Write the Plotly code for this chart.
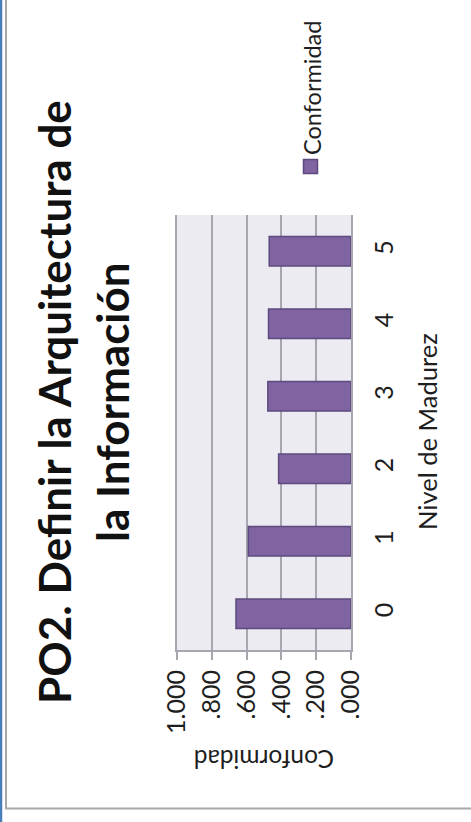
import plotly.graph_objects as go

# ---- data ----
niveles = ["0", "1", "2", "3", "4", "5"]
conformidad = [0.661, 0.590, 0.416, 0.478, 0.474, 0.470]
tick_vals = [0, 0.2, 0.4, 0.6, 0.8, 1.0]
tick_text = [".000", ".200", ".400", ".600", ".800", "1.000"]
title_line1 = "PO2. Definir la Arquitectura de"
title_line2 = "la Información"
series_name = "Conformidad"
axis_cat_title = "Nivel de Madurez"
axis_val_title = "Conformidad"

W, H = 471, 822
L, R, T, B = 177, 351, 215, 650  # plot area in pixels


def px(x):
    return (x - L) / (R - L)


def py(y):
    return (B - y) / (B - T)


FONT = "Lato"
TXT = "#1e1e1e"
GRID = "#a6a6ae"
BAR = "#8064a2"
BAR_LINE = "#5d4a7e"

fig = go.Figure()
fig.add_trace(go.Bar(
    y=niveles, x=conformidad, orientation="h", name=series_name,
    width=0.41, marker=dict(color=BAR, line=dict(color=BAR_LINE, width=1.5)),
    showlegend=False,
))

fig.update_layout(
    width=W, height=H,
    margin=dict(l=L, r=W - R, t=T, b=H - B, pad=0),
    paper_bgcolor="white", plot_bgcolor="#ebebf1",
    font=dict(family=FONT, color=TXT, size=25),
    bargap=0.59,
    xaxis=dict(
        range=[1, 0], tickvals=tick_vals, ticktext=tick_text, tickangle=-90,
        showgrid=True, gridcolor=GRID, gridwidth=2, zeroline=False,
        showline=True, linecolor=GRID, linewidth=2,
        ticks="outside", ticklen=8, tickwidth=2, tickcolor=GRID,
        tickfont=dict(family=FONT, size=25, color=TXT),
        fixedrange=True,
    ),
    yaxis=dict(
        type="category", categoryorder="array", categoryarray=niveles,
        side="right", tickangle=-90, showgrid=False, zeroline=False,
        showline=True, mirror=True, linecolor=GRID, linewidth=2,
        ticks="", ticklabelstandoff=10,
        tickfont=dict(family=FONT, size=25, color=TXT),
        fixedrange=True,
    ),
)

ann = []
# title (rotated)
ann.append(dict(text="<b>" + title_line1 + "</b>", x=px(54), y=py(402),
                xref="paper", yref="paper", showarrow=False, textangle=-90,
                xanchor="center", yanchor="middle",
                font=dict(family=FONT, size=44, color="#111111")))
ann.append(dict(text="<b>" + title_line2 + "</b>", x=px(112), y=py(402),
                xref="paper", yref="paper", showarrow=False, textangle=-90,
                xanchor="center", yanchor="middle",
                font=dict(family=FONT, size=44, color="#111111")))
# category axis title
ann.append(dict(text=axis_cat_title, x=px(427), y=py(432),
                xref="paper", yref="paper", showarrow=False, textangle=-90,
                xanchor="center", yanchor="middle",
                font=dict(family=FONT, size=25.5, color=TXT)))
# value axis title (upside down)
ann.append(dict(text=axis_val_title, x=px(264), y=py(760),
                xref="paper", yref="paper", showarrow=False, textangle=180,
                xanchor="center", yanchor="middle",
                font=dict(family=FONT, size=24.5, color=TXT)))
# legend text
ann.append(dict(text=series_name, x=px(312), y=py(88),
                xref="paper", yref="paper", showarrow=False, textangle=-90,
                xanchor="center", yanchor="middle",
                font=dict(family=FONT, size=23.5, color=TXT)))
fig.update_layout(annotations=ann)

shapes = []
# legend marker
shapes.append(dict(type="rect", xref="paper", yref="paper",
                   x0=px(303.5), x1=px(317.5), y0=py(159.5), y1=py(173.5),
                   fillcolor=BAR, line=dict(color=BAR_LINE, width=1.5)))
# frame: blue outer edge on left
shapes.append(dict(type="line", xref="paper", yref="paper",
                   x0=px(1), x1=px(1), y0=py(0), y1=py(H),
                   line=dict(color="#4a7ebb", width=2.5)))
# gray chart border (left and bottom)
shapes.append(dict(type="line", xref="paper", yref="paper",
                   x0=px(6), x1=px(6), y0=py(0), y1=py(809),
                   line=dict(color="#a8a8a8", width=2)))
shapes.append(dict(type="line", xref="paper", yref="paper",
                   x0=px(5), x1=px(W), y0=py(808.5), y1=py(808.5),
                   line=dict(color="#a8a8a8", width=2)))
fig.update_layout(shapes=shapes)

fig.write_html("out.html")
